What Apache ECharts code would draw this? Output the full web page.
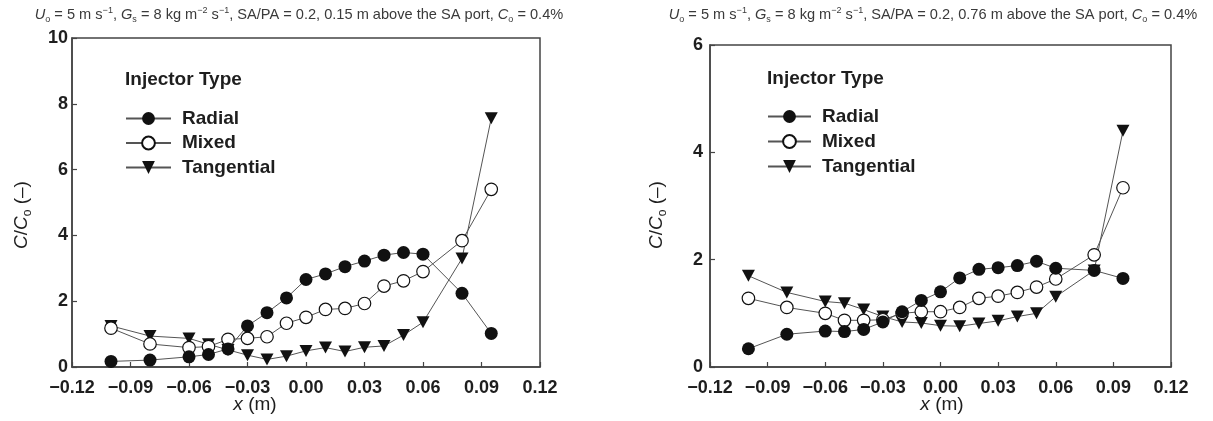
<!DOCTYPE html>
<html>
<head>
<meta charset="utf-8">
<script src="https://cdn.jsdelivr.net/npm/echarts@6/dist/echarts.min.js"></script>
<style>
  html, body { margin: 0; padding: 0; background: #fff; }
  #chart { width: 1213px; height: 421px; }
</style>
</head>
<body>
<div id="chart"></div>
<script>
// Radial positions across the riser (m)
const xPositions = [-0.10, -0.08, -0.06, -0.05, -0.04, -0.03, -0.02, -0.01, 0.00,
                    0.01, 0.02, 0.03, 0.04, 0.05, 0.06, 0.08, 0.095];

// Normalised concentration C/Co, 0.15 m above the SA port
const radialLow     = [0.17, 0.21, 0.31, 0.38, 0.55, 1.25, 1.65, 2.10, 2.66, 2.83, 3.05, 3.22, 3.40, 3.48, 3.43, 2.24, 1.02];
const mixedLow      = [1.18, 0.70, 0.59, 0.62, 0.84, 0.87, 0.92, 1.33, 1.51, 1.75, 1.78, 1.93, 2.46, 2.62, 2.90, 3.84, 5.40];
const tangentialLow = [1.25, 0.94, 0.87, 0.69, 0.52, 0.36, 0.23, 0.33, 0.49, 0.59, 0.47, 0.60, 0.64, 0.97, 1.36, 3.30, 7.56];

// Normalised concentration C/Co, 0.76 m above the SA port
const radialHigh     = [0.34, 0.61, 0.67, 0.66, 0.70, 0.84, 1.03, 1.24, 1.40, 1.66, 1.82, 1.85, 1.89, 1.97, 1.84, 1.80, 1.65];
const mixedHigh      = [1.28, 1.11, 1.00, 0.87, 0.87, 0.88, 1.00, 1.03, 1.03, 1.11, 1.28, 1.32, 1.39, 1.49, 1.64, 2.09, 3.34];
const tangentialHigh = [1.70, 1.39, 1.22, 1.19, 1.07, 0.94, 0.84, 0.82, 0.77, 0.76, 0.81, 0.86, 0.94, 1.00, 1.31, 1.80, 4.40];

const injectorNames = ['Radial', 'Mixed', 'Tangential'];
const xTickRange = { min: -0.12, max: 0.12, interval: 0.03 };
const yTickRangeLow = { min: 0, max: 10, interval: 2 };
const yTickRangeHigh = { min: 0, max: 6, interval: 2 };

const FONT = 'Liberation Sans, Arial, Helvetica, sans-serif';
const INK = '#1e1e1e';
const AXIS = '#444';
const TITLE_INK = '#3a3a3a';

function pairs(vals) {
  return xPositions.map((x, i) => [x, vals[i]]);
}

function fmtX(v) {
  if (Math.abs(v) < 1e-9) return '0.00';
  return (v < 0 ? '\u2212' : '') + Math.abs(v).toFixed(2);
}

function xAxisFor(gridIndex) {
  return {
    type: 'value', gridIndex,
    min: xTickRange.min, max: xTickRange.max, interval: xTickRange.interval,
    axisLine: { show: true, onZero: false, lineStyle: { color: AXIS, width: 1.5 } },
    axisTick: { show: true, inside: true, length: 5, lineStyle: { color: AXIS, width: 1.2 } },
    splitLine: { show: false },
    axisLabel: { margin: 12, fontFamily: FONT, fontSize: 18, fontWeight: 'bold', color: INK, formatter: fmtX }
  };
}

function yAxisFor(gridIndex, range, margin) {
  return {
    type: 'value', gridIndex,
    min: range.min, max: range.max, interval: range.interval,
    axisLine: { show: true, onZero: false, lineStyle: { color: AXIS, width: 1.5 } },
    axisTick: { show: true, inside: true, length: 5, lineStyle: { color: AXIS, width: 1.2 } },
    splitLine: { show: false },
    axisLabel: { margin, fontFamily: FONT, fontSize: 18, fontWeight: 'bold', color: INK }
  };
}

const downTriangle = 'path://M0,0L20,0L10,17Z';

function seriesSet(gridIndex, radial, mixed, tangential) {
  const common = {
    type: 'line', xAxisIndex: gridIndex, yAxisIndex: gridIndex,
    symbolSize: 13, lineStyle: { color: '#555', width: 1 }, emphasis: { disabled: true },
    animation: false
  };
  return [
    Object.assign({}, common, {
      name: 'Tangential', data: pairs(tangential), symbol: downTriangle, symbolSize: [13, 12],
      itemStyle: { color: '#111' }, z: 2
    }),
    Object.assign({}, common, {
      name: 'Mixed', data: pairs(mixed), symbol: 'circle', symbolSize: 12.5,
      itemStyle: { color: '#fff', borderColor: '#111', borderWidth: 1.2 }, z: 3
    }),
    Object.assign({}, common, {
      name: 'Radial', data: pairs(radial), symbol: 'circle',
      itemStyle: { color: '#111' }, z: 4
    })
  ];
}

function legendAt(left, top, width, gap) {
  return {
    data: injectorNames, orient: 'vertical', left, top,
    itemWidth: width, itemHeight: 16, itemGap: gap, selectedMode: false,
    textStyle: { fontFamily: FONT, fontSize: 19, fontWeight: 'bold', color: INK, lineHeight: 19, padding: [0, 0, 0, 6] }
  };
}

const titleRich = {
  i:   { fontStyle: 'italic', fontSize: 14.6, lineHeight: 18, verticalAlign: 'middle', fill: TITLE_INK, fontFamily: FONT },
  sub: { fontSize: 9, lineHeight: 9, verticalAlign: 'bottom', fill: TITLE_INK, fontFamily: FONT },
  sup: { fontSize: 9, lineHeight: 9, verticalAlign: 'top', fill: TITLE_INK, fontFamily: FONT }
};

function titleText(x, y, height) {
  return {
    type: 'text', x, y, silent: true,
    style: {
      text: '{i|U}{sub|o} = 5 m s{sup|\u22121}, {i|G}{sub|s} = 8 kg m{sup|\u22122} s{sup|\u22121}, SA/PA = 0.2, ' +
            height + ' m above the SA port, {i|C}{sub|o} = 0.4%',
      fontFamily: FONT, fontSize: 14.6, lineHeight: 18, fill: TITLE_INK,
      align: 'center', verticalAlign: 'middle', rich: titleRich
    }
  };
}

const nameRich = {
  i:   { fontStyle: 'italic', fontSize: 19, lineHeight: 24, verticalAlign: 'middle', fill: INK, fontFamily: FONT },
  sub: { fontSize: 12, lineHeight: 12, verticalAlign: 'bottom', fill: INK, fontFamily: FONT }
};

function yName(x, y) {
  return {
    type: 'text', x, y, rotation: Math.PI / 2, silent: true,
    style: {
      text: '{i|C}/{i|C}{sub|o} (\u2013)', fontFamily: FONT, fontSize: 19, lineHeight: 24, fill: INK,
      align: 'center', verticalAlign: 'middle', rich: nameRich
    }
  };
}

function xName(x, y) {
  return {
    type: 'text', x, y, silent: true,
    style: {
      text: '{i|x} (m)', fontFamily: FONT, fontSize: 19, lineHeight: 24, fill: INK,
      align: 'center', verticalAlign: 'middle', rich: nameRich
    }
  };
}

function legendHeading(x, y) {
  return {
    type: 'text', x, y, silent: true,
    style: { text: 'Injector Type', fontFamily: FONT, fontSize: 19, fontWeight: 'bold', fill: INK, align: 'left', verticalAlign: 'middle' }
  };
}

const chart = echarts.init(document.getElementById('chart'), null, { renderer: 'canvas' });
chart.setOption({
  animation: false,
  backgroundColor: '#fff',
  grid: [
    { left: 72, top: 38, width: 468, height: 329, show: true, borderColor: AXIS, borderWidth: 1.5, backgroundColor: 'transparent' },
    { left: 710, top: 45, width: 461, height: 322, show: true, borderColor: AXIS, borderWidth: 1.5, backgroundColor: 'transparent' }
  ],
  xAxis: [xAxisFor(0), xAxisFor(1)],
  yAxis: [yAxisFor(0, yTickRangeLow, 4), yAxisFor(1, yTickRangeHigh, 7)],
  legend: [legendAt(120, 104, 45, 5.5), legendAt(762, 102, 43, 6)],
  series: seriesSet(0, radialLow, mixedLow, tangentialLow)
    .concat(seriesSet(1, radialHigh, mixedHigh, tangentialHigh)),
  graphic: [
    titleText(299, 15, '0.15'),
    titleText(933, 15, '0.76'),
    yName(22, 215),
    yName(657, 215),
    xName(255, 405),
    xName(942, 405),
    legendHeading(125, 80),
    legendHeading(767, 79)
  ]
});
</script>
</body>
</html>
